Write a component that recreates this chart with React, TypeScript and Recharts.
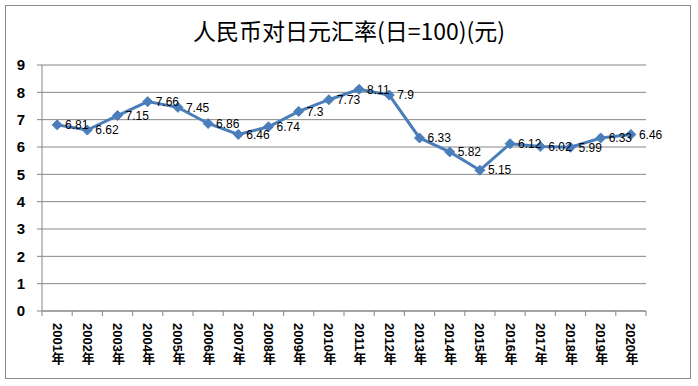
import { LineChart, Line, XAxis, YAxis, CartesianGrid, LabelList } from "recharts";

const years = [
  "2001年", "2002年", "2003年", "2004年", "2005年", "2006年", "2007年", "2008年", "2009年", "2010年",
  "2011年", "2012年", "2013年", "2014年", "2015年", "2016年", "2017年", "2018年", "2019年", "2020年",
];
const rates = [
  6.81, 6.62, 7.15, 7.66, 7.45, 6.86, 6.46, 6.74, 7.3, 7.73,
  8.11, 7.9, 6.33, 5.82, 5.15, 6.12, 6.02, 5.99, 6.33, 6.46,
];
const yTicks = [0, 1, 2, 3, 4, 5, 6, 7, 8, 9];

const data = years.map((year, i) => ({ year, rate: rates[i] }));

const BLUE = "#4a7ebb";
const GRID = "#868686";
const BAND = 604 / years.length;

const Diamond = (props: any) => {
  const { cx, cy } = props;
  if (cx == null || cy == null) return null;
  const r = 5;
  return (
    <path
      d={`M${cx},${cy - r}L${cx + r},${cy}L${cx},${cy + r}L${cx - r},${cy}Z`}
      fill={BLUE}
      stroke={BLUE}
    />
  );
};

const YearTick = (props: any) => {
  const { x, y, payload, index } = props;
  const left = x - BAND / 2;
  return (
    <g>
      <line x1={left} y1={y - 8} x2={left} y2={y - 3} stroke={GRID} />
      {index === years.length - 1 && (
        <line x1={x + BAND / 2} y1={y - 8} x2={x + BAND / 2} y2={y - 3} stroke={GRID} />
      )}
      <text
        x={x}
        y={y + 4}
        fill="#000"
        fontSize={13}
        fontWeight="bold"
        fontFamily="'Liberation Sans', 'Noto Sans CJK SC', sans-serif"
        style={{ writingMode: "vertical-rl", textOrientation: "mixed" }}
        textAnchor="start"
      >
        {payload.value}
      </text>
    </g>
  );
};

export default function App() {
  return (
    <div
      style={{
        position: "absolute",
        left: 0,
        top: 0,
        width: 698,
        height: 386,
        background: "#fff",
      }}
    >
      <div
        style={{
          position: "absolute",
          left: 5,
          top: 5,
          width: 684,
          height: 372,
          border: "1px solid #8c8c8c",
        }}
      />
      <div
        style={{
          position: "absolute",
          left: 0,
          top: 13,
          width: 698,
          textAlign: "center",
          fontSize: 23,
          fontFamily: "'Noto Sans CJK SC', sans-serif",
          color: "#000",
        }}
      >
        人民币对日元汇率(日=100)(元)
      </div>
      <div style={{ position: "absolute", left: 0, top: 0 }}>
        <LineChart
          width={698}
          height={386}
          data={data}
          margin={{ top: 65, right: 52, left: 0, bottom: 0 }}
        >
          <CartesianGrid vertical={false} stroke={GRID} />
          <XAxis
            dataKey="year"
            scale="band"
            interval={0}
            height={75}
            tickLine={false}
            axisLine={{ stroke: GRID }}
            tick={<YearTick />}
          />
          <YAxis
            domain={[0, 9]}
            ticks={yTicks}
            width={42}
            tickSize={5}
            tickMargin={12}
            tickLine={{ stroke: GRID }}
            axisLine={{ stroke: GRID }}
            tick={{
              fill: "#000",
              fontSize: 15,
              fontWeight: "bold",
              fontFamily: "'Liberation Sans', sans-serif",
            }}
          />
          <Line
            type="linear"
            dataKey="rate"
            stroke={BLUE}
            strokeWidth={3}
            dot={<Diamond />}
            activeDot={false}
            isAnimationActive={false}
          >
            <LabelList
              dataKey="rate"
              position="right"
              offset={8}
              fill="#000"
              fontSize={12}
              fontFamily="'Liberation Sans', sans-serif"
            />
          </Line>
        </LineChart>
      </div>
    </div>
  );
}
